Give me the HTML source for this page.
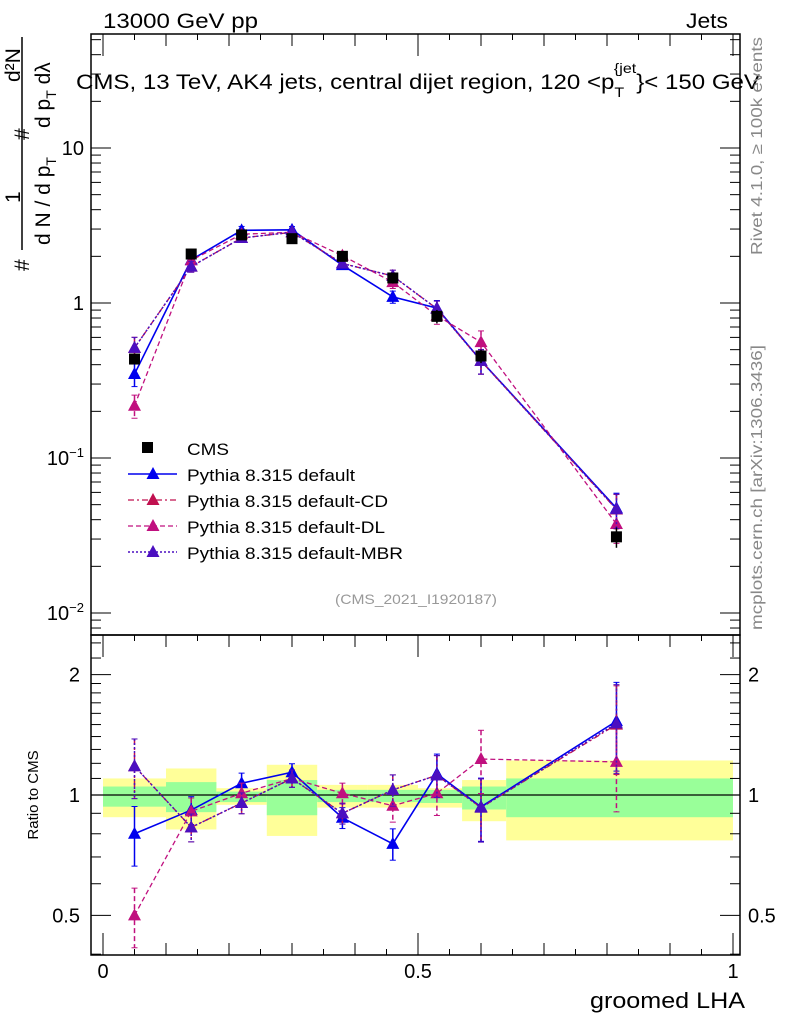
<!DOCTYPE html>
<html><head><meta charset="utf-8"><style>
body{margin:0;background:#fff;width:786px;height:1024px;overflow:hidden}
text{font-family:"Liberation Sans",sans-serif}
</style></head><body>
<svg id="c" width="786" height="1024" xmlns="http://www.w3.org/2000/svg"></svg>
<script>
const xPts=[0.05,0.14,0.22,0.30,0.38,0.46,0.53,0.60,0.815];
const binEdges=[0,0.10,0.18,0.26,0.34,0.42,0.50,0.57,0.64,1.0];
const cmsVals=[0.435,2.07,2.75,2.6,2.0,1.45,0.82,0.455,0.031];
const cmsErr=[0.05,0.08,0.06,0.06,0.06,0.08,0.1,0.1,0.15];
const ratioDefault=[0.80,0.917,1.07,1.14,0.877,0.755,1.13,0.934,1.53];
const ratioCD=[1.18,0.83,0.955,1.10,0.90,1.03,1.12,0.93,1.50];
const ratioDL=[0.50,0.91,1.01,1.10,1.01,0.94,1.01,1.23,1.21];
const ratioMBR=[1.18,0.83,0.955,1.10,0.90,1.03,1.12,0.93,1.51];
const modelRelErr=[0.17,0.08,0.06,0.05,0.06,0.09,0.12,0.18,0.25];
const yellowUp=[1.10,1.165,1.04,1.19,1.06,1.06,1.04,1.09,1.22];
const yellowDn=[0.88,0.82,0.945,0.79,0.93,0.93,0.93,0.86,0.77];
const greenUp=[1.05,1.077,1.02,1.09,1.03,1.03,1.03,1.05,1.10];
const greenDn=[0.935,0.906,0.96,0.89,0.96,0.96,0.955,0.92,0.88];
const xTicks=[0,0.5,1];
const ratioTicks=[0.5,1,2];
const mainTicks=[0.01,0.1,1,10];

const S=document.getElementById('c');const NS='http://www.w3.org/2000/svg';
function el(t,a,p){const e=document.createElementNS(NS,t);for(const k in a)e.setAttribute(k,a[k]);(p||S).appendChild(e);return e;}
const L=91,R=740,T=34,M=635,B=955;
const X=v=>103+630*v;
const Y=v=>303-155*Math.log10(v);
const YR=r=>795-400*Math.log10(r);
const clipM=el('clipPath',{id:'cm'});el('rect',{x:L,y:T,width:R-L,height:M-T},clipM);
const clipR=el('clipPath',{id:'cr'});el('rect',{x:L,y:M,width:R-L,height:B-M},clipR);

const bands=el('g',{'clip-path':'url(#cr)'});


for(let i=0;i<9;i++){
 const a=X(binEdges[i]),b=X(binEdges[i+1]);
 const y1=el('rect',{x:a,y:YR(yellowUp[i]),width:b-a,height:YR(yellowDn[i])-YR(yellowUp[i]),fill:'#ffff99'},bands);
 
 
 const g1=el('rect',{x:a,y:YR(greenUp[i]),width:b-a,height:YR(greenDn[i])-YR(greenUp[i]),fill:'#99ff99'},bands);
 
 
}
el('line',{x1:L,x2:R,y1:YR(1),y2:YR(1),stroke:'#000','stroke-width':1.3});

el('rect',{x:L,y:T,width:R-L,height:M-T,fill:'none',stroke:'#000','stroke-width':1.5});
el('rect',{x:L,y:M,width:R-L,height:B-M,fill:'none',stroke:'#000','stroke-width':1.5});

for(let v=0;v<=1.0001;v+=0.05){
 const big=Math.abs(v*2-Math.round(v*2))<1e-6, mid=Math.abs(v*10-Math.round(v*10))<1e-6;
 const len=big?22:(mid?12:6);
 el('line',{x1:X(v),x2:X(v),y1:B,y2:B-len,stroke:'#000'});
 el('line',{x1:X(v),x2:X(v),y1:M,y2:M+len,stroke:'#000'});
 el('line',{x1:X(v),x2:X(v),y1:T,y2:T+len,stroke:'#000'});
}
xTicks.forEach(v=>{const t=el('text',{x:X(v),y:978,'font-size':20,'text-anchor':'middle'});t.textContent=v;
 
 });
for(let d=-3;d<=1;d++)for(let m=1;m<10;m++){
 const v=m*Math.pow(10,d);const y=Y(v);if(y<T||y>M)continue;
 const len=m==1?20:10;
 el('line',{x1:L,x2:L+len,y1:y,y2:y,stroke:'#000'});el('line',{x1:R,x2:R-len,y1:y,y2:y,stroke:'#000'});
}
mainTicks.forEach((v,i)=>{const t=el('text',{x:84,y:Y(v)+7,'font-size':20,'text-anchor':'end'});
 if(v<0.5){t.innerHTML='10<tspan font-size="13" dy="-8">\u2212'+(v==0.01?'2':'1')+'</tspan>';}else t.textContent=String(v);
 
 });
[0.4,0.5,0.6,0.7,0.8,0.9,1,1.1,1.2,1.3,1.4,1.5,1.6,1.7,1.8,1.9,2,2.2,2.4].forEach(v=>{
 const y=YR(v);if(y<M||y>B)return;const big=ratioTicks.includes(v);const len=big?20:10;
 el('line',{x1:L,x2:L+len,y1:y,y2:y,stroke:'#000'});el('line',{x1:R,x2:R-len,y1:y,y2:y,stroke:'#000'});});
ratioTicks.forEach(v=>{
 const t=el('text',{x:80,y:YR(v)+7,'font-size':20,'text-anchor':'end'});t.textContent=v;
 
 
 const t2=el('text',{x:748,y:YR(v)+7,'font-size':20});t2.textContent=v;
 
 });

const series=[
 {n:'default',r:ratioDefault,c:'#0000ee',d:'',w:1.6},
 {n:'default-cd',r:ratioCD,c:'#c0104f',d:'6,3,2,3',w:1.3},
 {n:'default-dl',r:ratioDL,c:'#c0107f',d:'5,3',w:1.3},
 {n:'default-mbr',r:ratioMBR,c:'#4b0fc0',d:'2,2',w:1.5}];
function tri(g,x,y,c){el('path',{d:`M${x},${y-7}L${x+6.5},${y+5}L${x-6.5},${y+5}Z`,fill:c},g);}
series.forEach(s=>{
 const gm=el('g',{'clip-path':'url(#cm)'});
 
 
 const gr=el('g',{'clip-path':'url(#cr)'});
 
 
 const pm=[],pr=[];
 xPts.forEach((x,i)=>{const v=cmsVals[i]*s.r[i];pm.push(X(x)+','+Y(v));pr.push(X(x)+','+YR(s.r[i]));});
 el('polyline',{points:pm.join(' '),fill:'none',stroke:s.c,'stroke-width':s.w,'stroke-dasharray':s.d},gm);
 el('polyline',{points:pr.join(' '),fill:'none',stroke:s.c,'stroke-width':s.w,'stroke-dasharray':s.d},gr);
 xPts.forEach((x,i)=>{const v=cmsVals[i]*s.r[i],e=modelRelErr[i],r=s.r[i];
  [[gm,Y(v*(1+e)),Y(v*(1-e)),Y(v)],[gr,YR(r*(1+e)),YR(r*(1-e)),YR(r)]].forEach(([g,a,b,c])=>{
   el('line',{x1:X(x),x2:X(x),y1:a,y2:b,stroke:s.c,'stroke-width':1.5,'stroke-dasharray':s.d},g);
   el('line',{x1:X(x)-3,x2:X(x)+3,y1:a,y2:a,stroke:s.c},g);el('line',{x1:X(x)-3,x2:X(x)+3,y1:b,y2:b,stroke:s.c},g);
   tri(g,X(x),c,s.c);});
 });
});
const gd=el('g',{});


xPts.forEach((x,i)=>{const v=cmsVals[i];
 el('line',{x1:X(x),x2:X(x),y1:Y(v*(1+cmsErr[i])),y2:Y(v*(1-cmsErr[i])),stroke:'#000','stroke-width':1.5},gd);
 const r=el('rect',{x:X(x)-5.5,y:Y(v)-5.5,width:11,height:11,fill:'#000'},gd);
 
 });

const lg=el('g',{});
el('rect',{x:142,y:442,width:11,height:11,fill:'#000'},lg);
const lt=[['CMS',null,42],['Pythia 8.315 default',series[0],168],['Pythia 8.315 default-CD',series[1],201],['Pythia 8.315 default-DL',series[2],198],['Pythia 8.315 default-MBR',series[3],216]];
lt.forEach((l,i)=>{const y=448+26*i;
 if(l[1]){el('line',{x1:128,x2:177,y1:y,y2:y,stroke:l[1].c,'stroke-width':l[1].w,'stroke-dasharray':l[1].d},lg);tri(lg,153,y,l[1].c);}
 const t=el('text',{x:187,y:y+7,'font-size':17,textLength:l[2],lengthAdjust:'spacingAndGlyphs'},lg);t.textContent=l[0];
 
 });

function txt(x,y,s,str,name,extra){const t=el('text',Object.assign({x:x,y:y,'font-size':s},extra||{}));t.innerHTML=str;
 
 return t;}
const SA={lengthAdjust:'spacingAndGlyphs'};
txt(103,28,21,'13000 GeV pp','header-energy',Object.assign({textLength:155},SA));
txt(728,28,21,'Jets','header-jets',Object.assign({textLength:42,x:686},SA));
txt(76,89,21,'CMS, 13 TeV, AK4 jets, central dijet region, 120 &lt;p<tspan font-size="14" dy="8">T</tspan><tspan font-size="14" dy="-24" dx="-9">{jet</tspan><tspan dy="16">}&lt; 150 GeV</tspan>','plot-title',Object.assign({textLength:684},SA));
txt(335,604,14,'(CMS_2021_I1920187)','analysis-id',Object.assign({fill:'#999',textLength:162},SA));
txt(590,1008,22,'groomed LHA','x-axis-title',Object.assign({textLength:155},SA));
txt(0,0,15,'Ratio to CMS','ratio-y-axis-title',{transform:'translate(38,795) rotate(-90)','text-anchor':'middle'});
txt(0,0,16,'Rivet 4.1.0, \u2265 100k events','rivet-label',Object.assign({transform:'translate(762,255) rotate(-90)',fill:'#888',textLength:218},SA));
txt(0,0,16,'mcplots.cern.ch [arXiv:1306.3436]','mcplots-label',Object.assign({transform:'translate(762,630) rotate(-90)',fill:'#888',textLength:285},SA));
// y-axis title pieces
txt(0,0,21,'#','y-title-hash-1',{transform:'translate(29,271) rotate(-90)'});
txt(0,0,21,'1','y-title-one',{transform:'translate(20,203) rotate(-90)'});
txt(0,0,21,'d N / d p<tspan font-size="14" dy="6">T</tspan>','y-title-denominator',{transform:'translate(50,245) rotate(-90)'});
txt(0,0,21,'#','y-title-hash-2',{transform:'translate(29,140) rotate(-90)'});
txt(0,0,21,'d p<tspan font-size="14" dy="6">T</tspan><tspan dy="-6"> d\u03BB</tspan>','y-title-dpt-dlambda',{transform:'translate(50,128) rotate(-90)'});
txt(0,0,21,'d\u00B2N','y-title-d2n',{transform:'translate(20,82) rotate(-90)'});
el('line',{x1:22,x2:22,y1:37,y2:250,stroke:'#000','stroke-width':1.5});
</script>
</body></html>
